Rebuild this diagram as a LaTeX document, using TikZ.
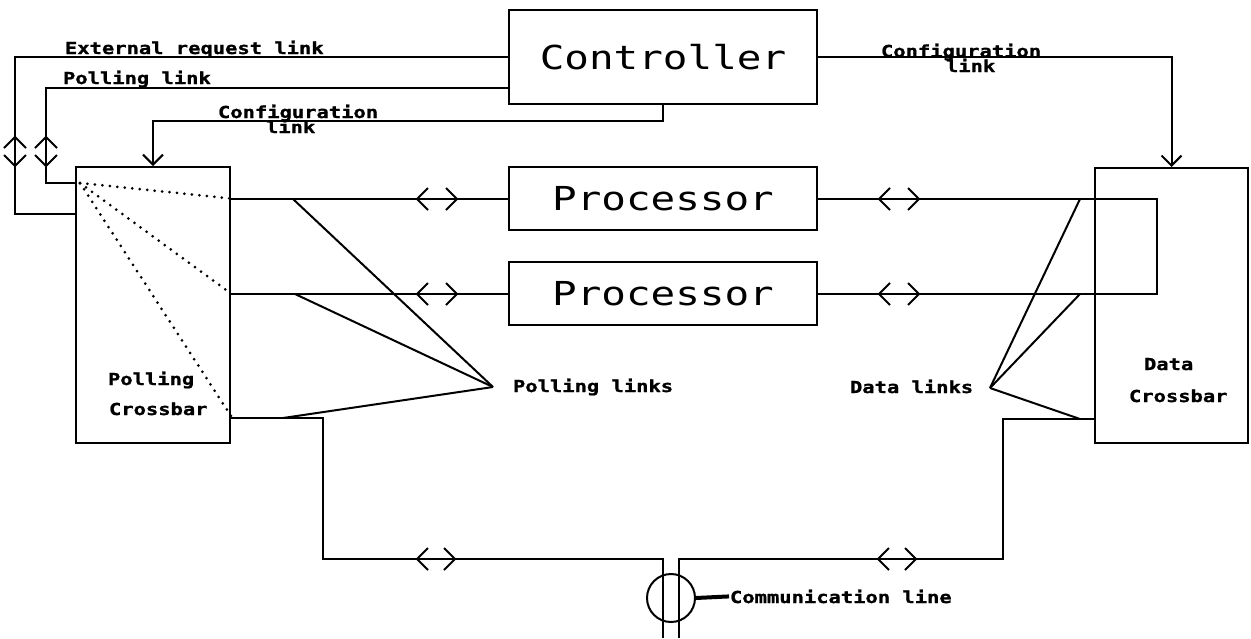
\documentclass[tikz,border=0pt]{standalone}
\usepackage{fontspec}
\usetikzlibrary{arrows.meta,calc}
\newfontfamily\smallplot{DejaVu Sans Mono}[FakeStretch=1.24,FakeBold=1.2]
\newfontfamily\bigplot{DejaVu Sans Mono}[FakeStretch=1.24]
\begin{document}
\begin{tikzpicture}[x=1pt,y=-1pt,
  line width=2pt,
  box/.style={draw,rectangle,inner sep=0pt},
  bigtxt/.style={font=\bigplot\fontsize{33}{33}\selectfont},
  lbl/.style={font=\smallplot\bfseries\fontsize{16.5}{16.5}\selectfont,inner sep=0pt},
  barb/.style={-{Straight Barb[length=10pt,width=20pt]}},
  dots/.style={line width=3pt,dash pattern=on 0pt off 7.5pt,line cap=round},
  pics/bichev/.style={code={
     \draw (-#1+11,-11) -- (-#1,0) -- (-#1+11,11);
     \draw (#1-11,-11) -- (#1,0) -- (#1-11,11);}}
]
\useasboundingbox (0,0) rectangle (1251,638);

% boxes
\node[box,minimum width=308pt,minimum height=94pt,bigtxt] (ctrl) at (663,57) {Controller};
\node[box,minimum width=308pt,minimum height=63pt,bigtxt] (p1) at (663,198.5) {Processor};
\node[box,minimum width=308pt,minimum height=63pt,bigtxt] (p2) at (663,293.5) {Processor};
\node[box,minimum width=154pt,minimum height=276pt] (pcb) at (153,305) {};
\node[box,minimum width=153pt,minimum height=275pt] (dcb) at (1171.5,305.5) {};
\node[circle,draw,minimum size=48pt,inner sep=0pt] (ring) at (671,598) {};

% labels
\node[lbl,anchor=base west] (ext) at (64,54) {External request link};
\node[lbl,anchor=base west] (pll) at (62,84) {Polling link};
\node[lbl,anchor=base west] (cfgl) at (217,118) {Configuration};
\node[lbl,anchor=base west] (cfgl2) at (265,133) {link};
\node[lbl,anchor=base west] (cfgr) at (880,57) {Configuration};
\node[lbl,anchor=base west] (cfgr2) at (945,72) {link};
\node[lbl,anchor=base west] (pcl1) at (107,385) {Polling};
\node[lbl,anchor=base west] (pcl2) at (108,415) {Crossbar};
\node[lbl,anchor=base west] (dcl1) at (1143,370) {Data};
\node[lbl,anchor=base west] (dcl2) at (1128,402) {Crossbar};
\node[lbl,anchor=base west] (plk) at (512,392) {Polling links};
\node[lbl,anchor=base west] (dlk) at (849,393) {Data links};
\node[lbl,anchor=base west] (comm) at (729,603) {Communication line};

% helper coordinates
\coordinate (xr) at (15,214);
\coordinate (plc) at (46,183);
\coordinate (rr) at (1157,0);
\coordinate (bl) at (323,418);
\coordinate (br) at (1003,419);
\coordinate (bus) at (0,559);
\coordinate (bot) at (0,638);
\coordinate (ll) at ($(ring.center)+(-8,0)$);
\coordinate (rl) at ($(ring.center)+(8,0)$);
\coordinate (pap) at (493,387);
\coordinate (pa1) at (293,199);
\coordinate (pa2) at (295,294);
\coordinate (pa3) at (283,418);
\coordinate (dap) at (990,388);
\coordinate (da1) at (1080,199);
\coordinate (da2) at (1080,294);
\coordinate (da3) at (1080,419);
\coordinate (dsrc) at (80,183);

% controller links
\draw (ctrl.west) -| (xr) -- (xr -| pcb.west);
\draw ($(ctrl.west)+(0,31)$) -| (plc) -- (plc -| pcb.west);
\draw[barb] (ctrl.south) -- ++(0,16) -| (pcb.north);
\draw[barb] (ctrl.east) -| (dcb.north);

% processor lines
\draw (p1.west) -- (p1.west -| pcb.east);
\draw (p2.west) -- (p2.west -| pcb.east);
\draw (p1.east) -| (rr |- p2.east) -- (p2.east);

% communication bus
\draw (bl -| pcb.east) -- (bl) |- (ll |- bus) -- (ll |- bot);
\draw (br -| dcb.west) -- (br) |- (rl |- bus) -- (rl |- bot);
\draw[line width=4pt] (ring.east) -- (comm.west);

% link pointers
\draw (pap) -- (pa1);
\draw (pap) -- (pa2);
\draw (pap) -- (pa3);
\draw (dap) -- (da1);
\draw (dap) -- (da2);
\draw (dap) -- (da3);

% dotted internal polling
\draw[dots] (dsrc) -- (p1.west -| pcb.east);
\draw[dots] (dsrc) -- (p2.west -| pcb.east);
\draw[dots] (dsrc) -- ($(pcb.south east)+(0,-28)$);

% bidirectional markers
\pic at (437,199) {bichev=20};
\pic at (437,294) {bichev=20};
\pic at (436,559) {bichev=19};
\pic at (899,199) {bichev=20};
\pic at (899,294) {bichev=20};
\pic at (897,559) {bichev=19};
\pic[rotate=90] at (15,151.5) {bichev=14.5};
\pic[rotate=90] at (46,151.5) {bichev=14.5};
\end{tikzpicture}
\end{document}
